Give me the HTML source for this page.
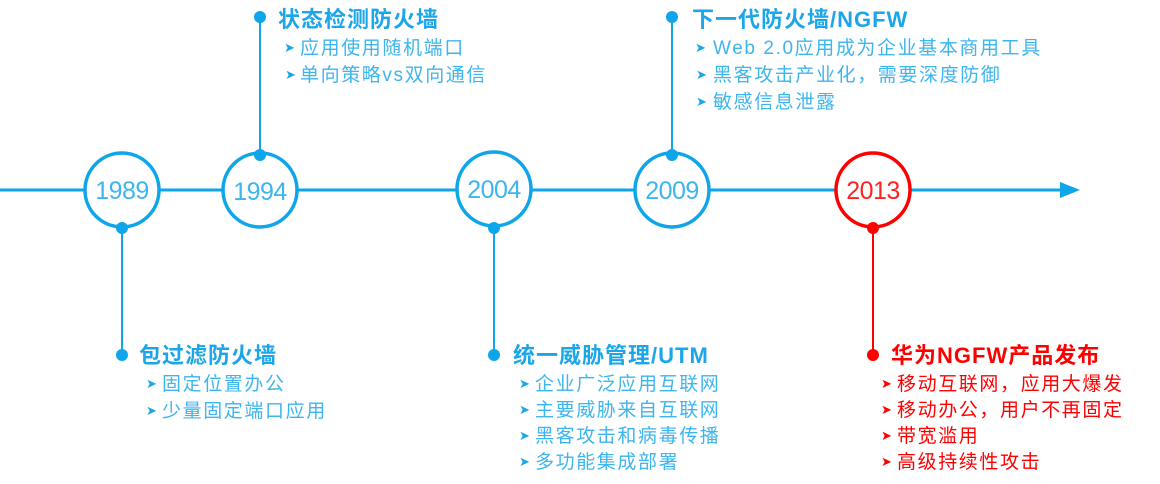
<!DOCTYPE html>
<html><head><meta charset="utf-8"><style>
html,body{margin:0;padding:0;background:#fff;}
svg{display:block}
text{font-family:"Liberation Sans","Noto Sans CJK SC",sans-serif;}
.t{font-size:22px;font-weight:bold;fill:#1ba6ea;letter-spacing:1px}
.b{font-size:19px;fill:#3db5ef;letter-spacing:1.6px}
.a{font-size:13px;fill:#1ba6ea}
.yr{font-size:25px;fill:#3db5ef;text-anchor:middle;letter-spacing:-0.5px}
.r{fill:#f00}
</style></head><body>
<svg width="1160" height="484" viewBox="0 0 1160 484" xmlns="http://www.w3.org/2000/svg">
<line x1="0" y1="190" x2="1062" y2="190" stroke="#0ea5ea" stroke-width="3"/>
<polygon points="1060,182 1080,190 1060,198" fill="#0ea5ea"/>
<g fill="#fff" stroke-width="3.5">
<circle cx="122" cy="190" r="37" stroke="#0ea5ea"/>
<circle cx="260" cy="190" r="37" stroke="#0ea5ea"/>
<circle cx="494" cy="189" r="37" stroke="#0ea5ea"/>
<circle cx="672" cy="190" r="37" stroke="#0ea5ea"/>
<circle cx="873" cy="190" r="37" stroke="#f00"/>
</g>
<text class="yr" x="122" y="199">1989</text>
<text class="yr" x="260" y="200">1994</text>
<text class="yr" x="494" y="198">2004</text>
<text class="yr" x="672" y="199">2009</text>
<text class="yr" x="873" y="199" style="fill:#f22">2013</text>
<g stroke="#0ea5ea" stroke-width="2">
<line x1="122" y1="228" x2="122" y2="355"/>
<line x1="260" y1="17" x2="260" y2="155"/>
<line x1="494" y1="228" x2="494" y2="355"/>
<line x1="672" y1="17" x2="672" y2="155"/>
</g>
<line x1="873" y1="228" x2="873" y2="355" stroke="#f00" stroke-width="2"/>
<g fill="#0ea5ea">
<circle cx="122" cy="228" r="6"/><circle cx="122" cy="355" r="6"/>
<circle cx="260" cy="155" r="6"/><circle cx="260" cy="17" r="6"/>
<circle cx="494" cy="228" r="6"/><circle cx="494" cy="355" r="6"/>
<circle cx="672" cy="155" r="6"/><circle cx="672" cy="17" r="6"/>
</g>
<g fill="#f00"><circle cx="873" cy="228" r="6"/><circle cx="873" cy="355" r="6"/></g>

<text class="t" x="139" y="363">包过滤防火墙</text>
<text class="a" x="146" y="388">➤</text><text class="b" x="162" y="390">固定位置办公</text>
<text class="a" x="146" y="415">➤</text><text class="b" x="162" y="417">少量固定端口应用</text>

<text class="t" x="278" y="27">状态检测防火墙</text>
<text class="a" x="284" y="52">➤</text><text class="b" x="300" y="54">应用使用随机端口</text>
<text class="a" x="285" y="79">➤</text><text class="b" x="300" y="81">单向策略vs双向通信</text>

<text class="t" x="513" y="363">统一威胁管理/UTM</text>
<text class="a" x="519" y="388">➤</text><text class="b" x="535" y="390">企业广泛应用互联网</text>
<text class="a" x="519" y="414">➤</text><text class="b" x="535" y="416">主要威胁来自互联网</text>
<text class="a" x="519" y="440">➤</text><text class="b" x="535" y="442">黑客攻击和病毒传播</text>
<text class="a" x="519" y="466">➤</text><text class="b" x="535" y="468">多功能集成部署</text>

<text class="t" x="692" y="27">下一代防火墙/NGFW</text>
<text class="a" x="695" y="52">➤</text><text class="b" x="713" y="54">Web 2.0应用成为企业基本商用工具</text>
<text class="a" x="696" y="79">➤</text><text class="b" x="713" y="81">黑客攻击产业化，需要深度防御</text>
<text class="a" x="696" y="106">➤</text><text class="b" x="713" y="108">敏感信息泄露</text>

<text class="t r" x="891" y="363">华为NGFW产品发布</text>
<text class="a r" x="881" y="388">➤</text><text class="b r" x="897" y="390">移动互联网，应用大爆发</text>
<text class="a r" x="881" y="414">➤</text><text class="b r" x="897" y="416">移动办公，用户不再固定</text>
<text class="a r" x="881" y="440">➤</text><text class="b r" x="897" y="442">带宽滥用</text>
<text class="a r" x="881" y="466">➤</text><text class="b r" x="897" y="468">高级持续性攻击</text>
</svg>
</body></html>
